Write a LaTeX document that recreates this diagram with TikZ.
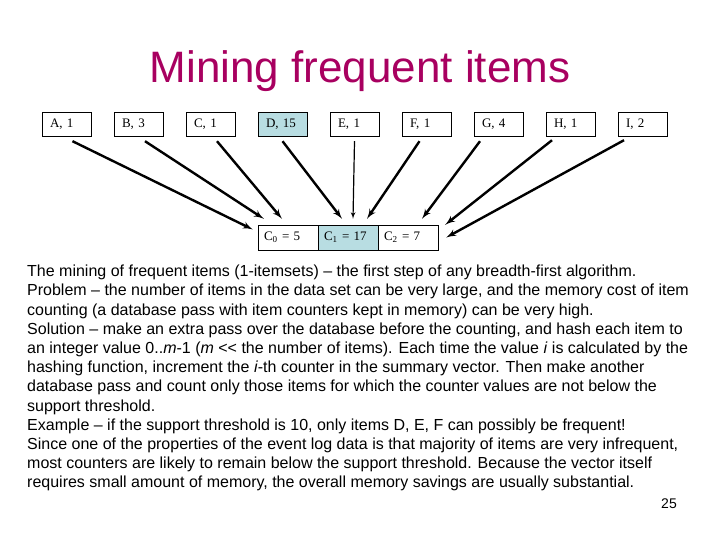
\documentclass[tikz,border=0pt]{standalone}
\usepackage{fontspec}
\setmainfont{Liberation Sans}
\newfontfamily\boxfont{Liberation Serif}
\definecolor{titlepink}{RGB}{168, 0, 96}
\definecolor{hashblue}{RGB}{184, 221, 226}
\usetikzlibrary{arrows, positioning}

\begin{document}
\begin{tikzpicture}[x=1bp, y=-1bp, node distance=72bp, auto]
      \tikzstyle{itembox} = [rectangle, draw, thin, text width=33bp, inner xsep=8bp, align=left, minimum height=24bp, font=\boxfont\fontsize{13bp}{15bp}\selectfont]
      \tikzstyle{cellbox} = [rectangle, draw, thin, text width=48bp, inner xsep=6bp, align=left, minimum height=25bp, font=\boxfont\fontsize{13bp}{15bp}\selectfont]
      \tikzstyle{line} = [draw, -latex', line width=2.4bp]
      \path [use as bounding box] (0,0) rectangle (720,540);

      \node [anchor=base, text=titlepink, font=\fontsize{44bp}{50bp}\selectfont] (title) at (360,83) {Mining frequent items};

      % items with their counts
      \node [itembox] (A) at (66.5,124) {A, 1};
      \node [itembox, right of=A] (B) {B, 3};
      \node [itembox, right of=B] (C) {C, 1};
      \node [itembox, right of=C, fill=hashblue] (D) {D, 15};
      \node [itembox, right of=D] (E) {E, 1};
      \node [itembox, right of=E] (F) {F, 1};
      \node [itembox, right of=F] (G) {G, 4};
      \node [itembox, right of=G] (H) {H, 1};
      \node [itembox, right of=H] (I) {I, 2};

      % summary vector
      \node [cellbox] (c0) at (288,237.5) {C\textsubscript{0} = 5};
      \node [cellbox, right of=c0, node distance=60bp, fill=hashblue] (c1) {C\textsubscript{1} = 17};
      \node [cellbox, right of=c1, node distance=60bp] (c2) {C\textsubscript{2} = 7};

      \path [line] ([xshift=6bp, yshift=-5bp]A.south) -- ([xshift=-5bp, yshift=8bp]c0.west);
      \path [line] ([xshift=6.5bp, yshift=-5bp]B.south) -- ([xshift=6bp, yshift=6bp]c0.north west);
      \path [line] ([xshift=6.5bp, yshift=-5bp]C.south) -- ([xshift=-6bp, yshift=6bp]c0.north);
      \path [line] ([yshift=-5bp]D.south) -- ([xshift=-6bp, yshift=6bp]c1.north);
      \path [line, line width=1.2bp] ([yshift=-5bp]E.south) -- ([xshift=5bp, yshift=6bp]c1.north);
      \path [line] ([xshift=-7bp, yshift=-5bp]F.south) -- ([xshift=19bp, yshift=6bp]c1.north);
      \path [line] ([xshift=-18.5bp, yshift=-5bp]G.south) -- ([xshift=14bp, yshift=6bp]c2.north);
      \path [line] ([xshift=-18.5bp, yshift=-4bp]H.south) -- ([xshift=7bp]c2.north east);
      \path [line] ([xshift=-18.5bp, yshift=-4bp]I.south) -- ([xshift=8bp]c2.east);

      \node [anchor=north west, inner sep=0pt, align=left, font=\fontsize{16bp}{19.2bp}\selectfont] (body) at (27,265) {%
The mining of frequent items (1-itemsets) -- the first step of any breadth-first algorithm.\\
Problem -- the number of items in the data set can be very large, and the memory cost of item\\
counting (a database pass with item counters kept in memory) can be very high.\\
Solution -- make an extra pass over the database before the counting, and hash each item to\\
an integer value 0..\textit{m}-1 (\textit{m} {<}{<} the number of items). Each time the value \textit{i} is calculated by the\\
hashing function, increment the \textit{i}-th counter in the summary vector. Then make another\\
database pass and count only those items for which the counter values are not below the\\
support threshold.\\
Example -- if the support threshold is 10, only items D, E, F can possibly be frequent!\\
Since one of the properties of the event log data is that majority of items are very infrequent,\\
most counters are likely to remain below the support threshold. Because the vector itself\\
requires small amount of memory, the overall memory savings are usually substantial.};

      \node [font=\fontsize{14bp}{16bp}\selectfont] (page) at (669,504) {25};
    \end{tikzpicture}
\end{document}
